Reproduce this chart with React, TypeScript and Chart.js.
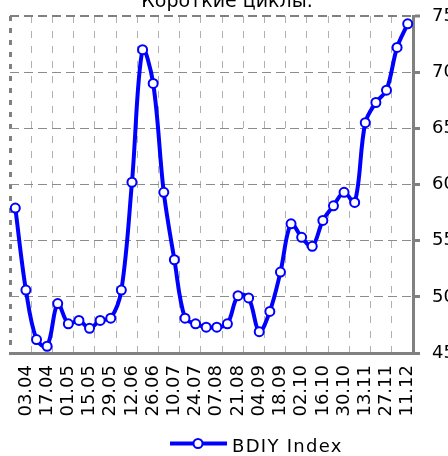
import React, { useEffect, useRef } from 'react';
import { Chart, registerables } from 'chart.js';

Chart.register(...registerables);

const titleText = 'Короткие циклы.';
const seriesName = 'BDIY Index';

const dates = [
  '27.03', '03.04', '10.04', '17.04', '24.04', '01.05', '08.05', '15.05', '22.05', '29.05',
  '05.06', '12.06', '19.06', '26.06', '03.07', '10.07', '17.07', '24.07', '31.07', '07.08',
  '14.08', '21.08', '28.08', '04.09', '11.09', '18.09', '25.09', '02.10', '09.10', '16.10',
  '23.10', '30.10', '06.11', '13.11', '20.11', '27.11', '04.12', '11.12',
];

const bdiyValues = [
  579, 506, 462, 456, 494, 476, 479, 472, 479, 481,
  506, 602, 720, 690, 593, 533, 481, 476, 473, 473,
  476, 501, 499, 469, 487, 522, 565, 553, 545, 568,
  581, 593, 584, 655, 673, 684, 722, 743,
];

const yMin = 450;
const yMax = 750;
const yStep = 50;

const FONT = 'DejaVu Sans';
const BLUE = '#0000ff';
const AXIS_GRAY = '#808080';

const textPlugin = {
  id: 'textPlugin',
  afterDraw(chart: any) {
    const ctx = chart.ctx as CanvasRenderingContext2D;
    ctx.save();
    // title
    ctx.fillStyle = '#000';
    ctx.font = `19px "${FONT}"`;
    ctx.textAlign = 'center';
    ctx.textBaseline = 'alphabetic';
    ctx.fillText(titleText, 227, 17);
    // legend
    const ly = 453.5;
    ctx.strokeStyle = BLUE;
    ctx.lineWidth = 4;
    ctx.beginPath();
    ctx.moveTo(170, ly);
    ctx.lineTo(227, ly);
    ctx.stroke();
    ctx.beginPath();
    ctx.arc(198, ly, 4.5, 0, Math.PI * 2);
    ctx.fillStyle = '#fff';
    ctx.fill();
    ctx.lineWidth = 2;
    ctx.stroke();
    ctx.fillStyle = '#000';
    ctx.font = `18px "${FONT}"`;
    (ctx as any).letterSpacing = '1.3px';
    ctx.textAlign = 'left';
    ctx.fillText(seriesName, 232, 461.5);
    ctx.restore();
  },
};

export default function App() {
  const ref = useRef<HTMLCanvasElement>(null);
  useEffect(() => {
    if (!ref.current) return;
    const chart = new Chart(ref.current, {
      type: 'line',
      data: {
        labels: dates,
        datasets: [
          {
            label: seriesName,
            data: bdiyValues,
            borderColor: BLUE,
            borderWidth: 4,
            backgroundColor: '#fff',
            pointBackgroundColor: '#fff',
            pointBorderColor: BLUE,
            pointBorderWidth: 2,
            pointRadius: 4.5,
            tension: 0.35,
            fill: false,
          },
        ],
      },
      options: {
        animation: false,
        responsive: false,
        devicePixelRatio: 1,
        layout: { padding: { left: 10, top: 26, right: 0, bottom: 27 } },
        plugins: {
          legend: { display: false },
          title: { display: false },
          tooltip: { enabled: false },
        },
        scales: {
          x: {
            type: 'category',
            offset: true,
            afterFit: (s: any) => { s.height = 76; },
            grid: {
              offset: true,
              drawTicks: false,
              color: (c: any) =>
                c.index === undefined || c.index % 2 !== 0
                  ? 'rgba(0,0,0,0)'
                  : c.index === 0
                  ? AXIS_GRAY
                  : '#b0b0b0',
              lineWidth: (c: any) => (c.index === 0 ? 3 : 1),
            },
            border: {
              display: true,
              color: AXIS_GRAY,
              width: 3,
              dash: (c: any) => (c.index === 0 ? [5, 7] : [7, 8]),
            },
            ticks: {
              autoSkip: false,
              maxRotation: 90,
              minRotation: 90,
              padding: 12,
              color: '#000',
              font: { family: FONT, size: 18 },
              callback: (_v: any, i: number) => (i % 2 === 1 ? dates[i] : ''),
            },
          },
          y: {
            position: 'right',
            min: yMin,
            max: yMax,
            afterFit: (s: any) => { s.width = 66; },
            grid: {
              color: (c: any) => (c.tick && c.tick.value === yMax ? AXIS_GRAY : '#8c8c8c'),
              lineWidth: (c: any) => (c.tick && c.tick.value === yMax ? 2 : 1),
              tickColor: AXIS_GRAY,
              tickWidth: 3,
              tickLength: 7,
              tickBorderDash: [],
            },
            border: {
              display: true,
              color: AXIS_GRAY,
              width: 3,
              dash: [9, 5],
            },
            ticks: {
              stepSize: yStep,
              padding: 12,
              color: '#000',
              font: { family: FONT, size: 18 },
            },
          },
        },
      },
      plugins: [textPlugin],
    } as any);
    return () => chart.destroy();
  }, []);
  return (
    <div style={{ position: 'absolute', left: 0, top: 0, width: 448, height: 456, overflow: 'hidden', background: '#fff' }}>
      <canvas
        ref={ref}
        width={479}
        height={466}
        style={{ position: 'absolute', left: 0, top: -10, display: 'block' }}
      />
    </div>
  );
}
